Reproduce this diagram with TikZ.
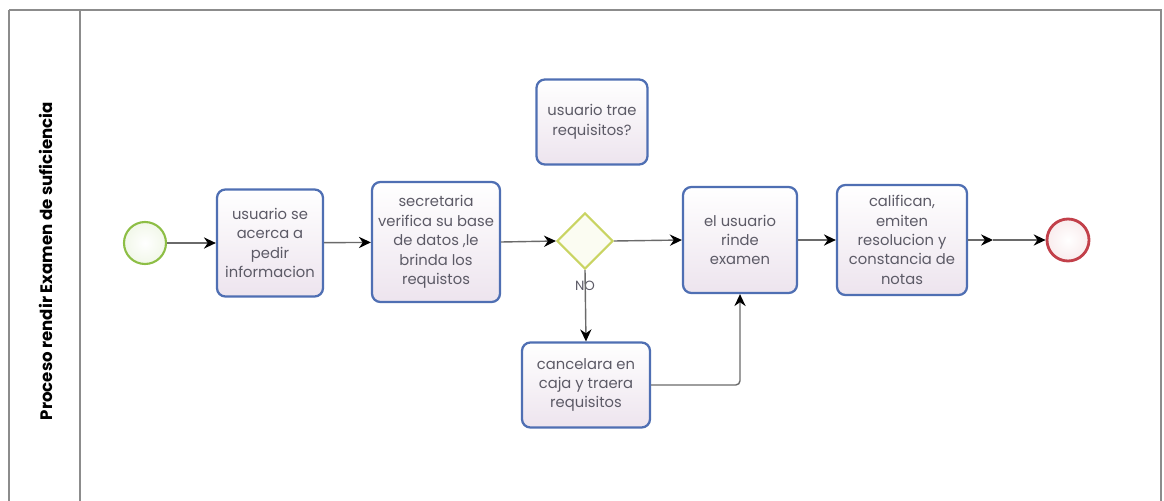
\documentclass[tikz,border=0pt]{standalone}
\usepackage{fontspec}
\setmainfont{Poppins}
\usepackage{tikz}
\usetikzlibrary{arrows.meta,positioning,shapes.geometric}
\definecolor{laneline}{HTML}{8C8C8C}
\definecolor{taskblue}{HTML}{4F6FB3}
\definecolor{taskpink}{HTML}{EDE4EE}
\definecolor{txtgray}{HTML}{5C5A66}
\definecolor{startgreen}{HTML}{8DBE45}
\definecolor{endred}{HTML}{C2404A}
\definecolor{gwyellow}{HTML}{C9D462}
\definecolor{flowgray}{HTML}{6A6A6A}
\tikzset{
	%Define standard arrow tip
	>={Stealth[length=8.5pt,width=8pt,black]},
	%Define style for tasks
	tarea/.style={
		rectangle,
		rounded corners=6pt,
		draw=taskblue, line width=1.6pt,
		top color=white, bottom color=taskpink,
		align=center,
		text=txtgray,
		inner sep=2pt,
		font=\fontsize{10.5}{13.8}\selectfont},
	% Define events and gateway
	inicio/.style={circle, draw=startgreen, line width=1.5pt,
		inner color=white, outer color=startgreen!12, minimum size=1.05cm, inner sep=0pt},
	fin/.style={circle, draw=endred, line width=2pt,
		inner color=white, outer color=endred!10, minimum size=1.05cm, inner sep=0pt},
	compuerta/.style={diamond, draw=gwyellow, line width=1.5pt,
		fill=gwyellow!8, minimum width=1.4cm, minimum height=1.4cm, inner sep=0pt},
	% Define arrow style
	flujo/.style={
		->,
		draw=flowgray,
		line width=1pt},
	etiqueta/.style={text=txtgray, font=\fontsize{9.5}{11}\selectfont}
}
\begin{document}
\begin{tikzpicture}[x=0.025cm,y=-0.025cm]
	\useasboundingbox (0,0) rectangle (1164,500);
	% pool and lane
	\draw[laneline, line width=1.2pt] (9,10) -- (1161,10) -- (1161,506);
	\draw[laneline, line width=1.2pt] (9,506) -- (9,10);
	\draw[laneline, line width=1.2pt] (80,10) -- (80,506);
	\node[rotate=90, font=\bfseries\fontsize{11.8}{14}\selectfont] (titulo) at (46,261) {Proceso rendir Examen de suficiencia};
	% node Start
	\node[inicio] (start) at (145,243) {};
	% tasks
	\node[tarea, minimum width=2.65cm, minimum height=2.675cm] (pedir) at (270,243) {usuario se\\acerca a\\pedir\\informacion};
	\node[tarea, minimum width=3.2cm, minimum height=3cm] (verifica) at (436,242) {secretaria\\verifica su base\\de datos ,le\\brinda los\\requistos};
	% node Gateway
	\node[compuerta] (gw) at (585,241) {};
	\node[tarea, minimum width=2.775cm, minimum height=2.125cm] (pregunta) at (592,122) {usuario trae\\requisitos?};
	\node[etiqueta, below=0.4cm of gw.south, anchor=center] (no) {NO};
	\node[tarea, minimum width=2.85cm, minimum height=2.65cm] (rinde) at (740,240) {el usuario\\rinde\\examen};
	\node[tarea, minimum width=3.2cm, minimum height=2.125cm] (cancela) at (586,385) {cancelara en\\caja y traera\\requisitos};
	\node[tarea, minimum width=3.25cm, minimum height=2.75cm] (califica) at (902,240) {califican,\\emiten\\resolucion y\\constancia de\\notas};
	% node End
	\node[fin] (end) at (1068,240) {};
	\coordinate (medio) at (993,240);
	% flows
	\draw[flujo] (start) -- (pedir);
	\draw[flujo] (pedir) -- (verifica);
	\draw[flujo] (verifica.east) -- (gw.west);
	\draw[flujo] (gw.east) -- (rinde.west);
	\draw[flujo] (gw.south) -- (cancela.north);
	\draw[flujo, rounded corners=3pt] (cancela.east) -| (rinde.south);
	\draw[flujo] (rinde.east) -- (califica.west);
	\draw[flujo] (califica.east) -- (medio);
	\draw[flujo] (medio) -- (end.west);
\end{tikzpicture}
\end{document}
